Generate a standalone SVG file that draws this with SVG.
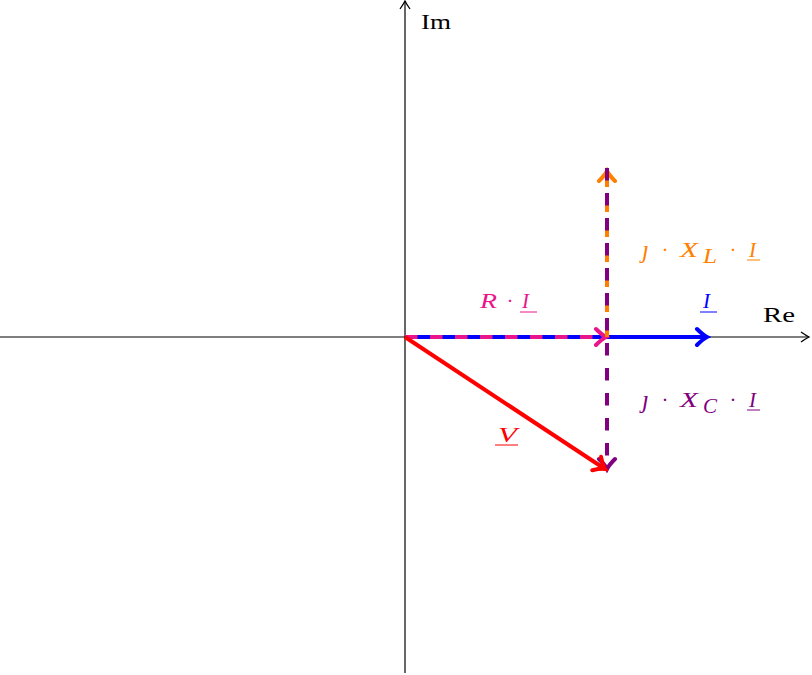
<svg xmlns="http://www.w3.org/2000/svg" width="812" height="675" viewBox="0 0 812 675">
<style>
.ax{stroke:#000;stroke-width:1.2;fill:none}
.v{fill:none;stroke-width:4;stroke-linecap:butt}
.d{stroke-dasharray:12.5 12.5}
.t{font-family:"Liberation Serif","DejaVu Serif",serif;font-size:21px}
.it{font-style:italic}
.c{text-anchor:middle}
.j{font-size:25px}
</style>
<defs>
<marker id="ak" markerUnits="userSpaceOnUse" viewBox="-12 -8 14 16" refX="0" refY="0" markerWidth="14" markerHeight="16" orient="auto"><path d="M-8,-5 Q-3,-1.5 0,0 Q-3,1.5 -8,5" fill="none" stroke="#000" stroke-width="1.3"/></marker>
<marker id="ab" markerUnits="userSpaceOnUse" viewBox="-16 -12 20 24" refX="0" refY="0" markerWidth="20" markerHeight="24" orient="auto"><path d="M-10,-8 Q-4,-2 0,0 Q-4,2 -10,8" fill="none" stroke="#0000ff" stroke-width="4" stroke-linecap="round"/></marker>
<marker id="ap" markerUnits="userSpaceOnUse" viewBox="-16 -12 20 24" refX="0" refY="0" markerWidth="20" markerHeight="24" orient="auto"><path d="M-10,-8 Q-4,-2 0,0 Q-4,2 -10,8" fill="none" stroke="#e8168a" stroke-width="4" stroke-linecap="round"/></marker>
<marker id="ao" markerUnits="userSpaceOnUse" viewBox="-16 -12 20 24" refX="0" refY="0" markerWidth="20" markerHeight="24" orient="auto"><path d="M-10,-8 Q-4,-2 0,0 Q-4,2 -10,8" fill="none" stroke="#ff8000" stroke-width="4" stroke-linecap="round"/></marker>
<marker id="av" markerUnits="userSpaceOnUse" viewBox="-16 -12 20 24" refX="0" refY="0" markerWidth="20" markerHeight="24" orient="auto"><path d="M-10,-8 Q-4,-2 0,0 Q-4,2 -10,8" fill="none" stroke="#800080" stroke-width="4" stroke-linecap="round"/></marker>
<marker id="ar" markerUnits="userSpaceOnUse" viewBox="-16 -12 20 24" refX="0" refY="0" markerWidth="20" markerHeight="24" orient="auto"><path d="M-10,-8 Q-4,-2 0,0 Q-4,2 -10,8" fill="none" stroke="#ff0000" stroke-width="4" stroke-linecap="round"/></marker>
</defs>
<g id="connectors">
<line class="ax" x1="0" y1="337" x2="809" y2="337" marker-end="url(#ak)"/>
<line class="ax" x1="405" y1="673" x2="405" y2="1" marker-end="url(#ak)"/>
<line class="v" stroke="#0000ff" x1="405" y1="337" x2="707" y2="337" marker-end="url(#ab)"/>
<line class="v d" stroke="#e8168a" x1="405" y1="337" x2="606" y2="337" marker-end="url(#ap)"/>
<line class="v d" stroke="#ff8000" x1="607" y1="337" x2="607" y2="171" marker-end="url(#ao)"/>
<line class="v d" stroke="#800080" x1="607" y1="168" x2="607" y2="469" marker-end="url(#av)"/>
<line class="v" stroke="#ff0000" x1="405" y1="337" x2="605" y2="469" marker-end="url(#ar)"/>
</g>
<g id="label-im"><text class="t" x="421" y="29" textLength="30" lengthAdjust="spacingAndGlyphs">Im</text></g>
<g id="label-re"><text class="t" x="763" y="322" textLength="32" lengthAdjust="spacingAndGlyphs">Re</text></g>
<g id="label-ri" fill="#e8168a">
<text class="t it" x="480" y="308" textLength="17" lengthAdjust="spacingAndGlyphs">R</text>
<text class="t c" x="510" y="308">·</text>
<text class="t it" x="522" y="308">I</text>
<line x1="520" y1="312" x2="537" y2="312" stroke="#e8168a" stroke-width="1"/>
</g>
<g id="label-i" fill="#0000ff">
<text class="t it" x="703" y="308">I</text>
<line x1="700" y1="312" x2="717" y2="312" stroke="#0000ff" stroke-width="1"/>
</g>
<g id="label-xl" fill="#ff8000">
<text class="t it j" x="642" y="258">ȷ</text>
<text class="t c" x="665" y="257">·</text>
<text class="t it" x="680" y="257" textLength="18" lengthAdjust="spacingAndGlyphs">X</text>
<text class="t it" x="703" y="263" textLength="14" lengthAdjust="spacingAndGlyphs">L</text>
<text class="t c" x="733" y="257">·</text>
<text class="t it" x="749" y="257">I</text>
<line x1="747" y1="260" x2="760" y2="260" stroke="#ff8000" stroke-width="1"/>
</g>
<g id="label-xc" fill="#800080">
<text class="t it j" x="642" y="408">ȷ</text>
<text class="t c" x="665" y="407">·</text>
<text class="t it" x="680" y="407" textLength="18" lengthAdjust="spacingAndGlyphs">X</text>
<text class="t it" x="703" y="413" textLength="14" lengthAdjust="spacingAndGlyphs">C</text>
<text class="t c" x="733" y="407">·</text>
<text class="t it" x="749" y="407">I</text>
<line x1="747" y1="410" x2="760" y2="410" stroke="#800080" stroke-width="1"/>
</g>
<g id="label-v" fill="#ff0000">
<text class="t it" x="498" y="442" textLength="19" lengthAdjust="spacingAndGlyphs">V</text>
<line x1="495" y1="445" x2="518" y2="445" stroke="#ff0000" stroke-width="1"/>
</g>
</svg>
